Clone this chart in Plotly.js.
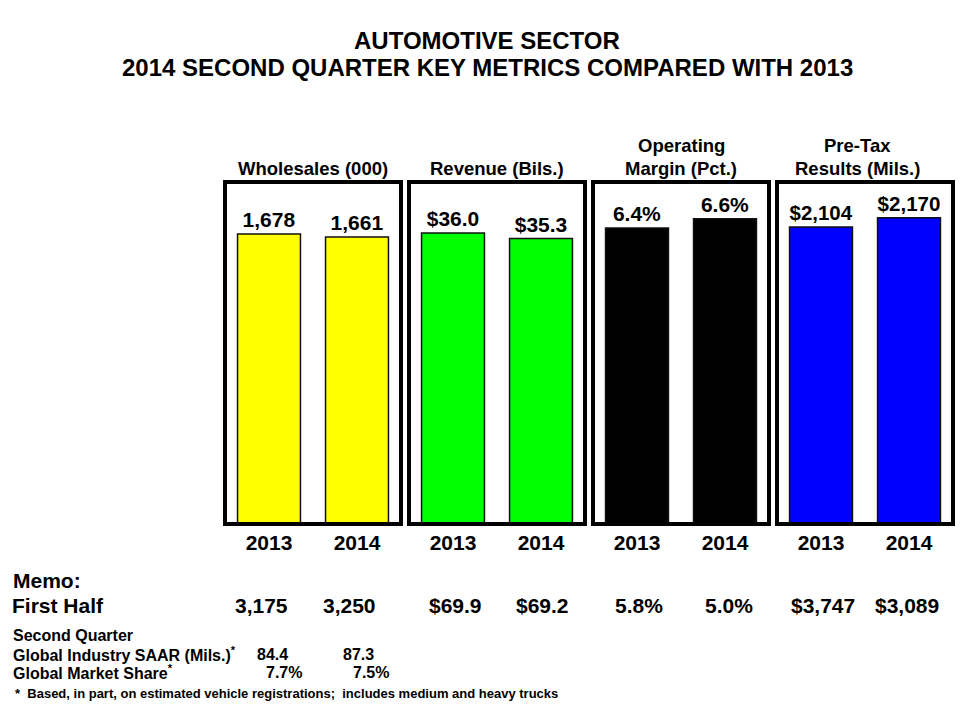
<!DOCTYPE html>
<html>
<head>
<meta charset="utf-8">
<script src="https://cdn.plot.ly/plotly-3.0.1.min.js"></script>
<style>html,body{margin:0;padding:0;background:#fff;}#chart{width:960px;height:720px;}</style>
</head>
<body>
<div id="chart"></div>
<script>
// ---- data ----
const years = ['2013', '2014'];
const wholesales = [1678, 1661];      // (000)
const revenue = [36.0, 35.3];         // Bils.
const opMargin = [6.4, 6.6];          // Pct.
const preTax = [2104, 2170];          // Mils.

const panelTitles = [
  ['Wholesales (000)'],
  ['Revenue (Bils.)'],
  ['Operating', 'Margin (Pct.)'],
  ['Pre-Tax', 'Results (Mils.)']
];

const firstHalfWholesales = [3175, 3250];
const firstHalfRevenue = [69.9, 69.2];
const firstHalfMargin = [5.8, 5.0];
const firstHalfPreTax = [3747, 3089];

const saar = [84.4, 87.3];
const marketShare = [7.7, 7.5];

const titleLines = ['AUTOMOTIVE SECTOR', '2014 SECOND QUARTER KEY METRICS COMPARED WITH 2013'];
const footnote = '*  Based, in part, on estimated vehicle registrations;  includes medium and heavy trucks';

// ---- helpers ----
const W = 960, H = 720;
const FONT = '"Liberation Sans", Arial, sans-serif';
const px = x => x / W;
const py = y => 1 - y / H;
const comma = v => v.toLocaleString('en-US');

const series = [
  {y: wholesales, color: '#FFFF00', tmpl: '%{y:,}'},
  {y: revenue, color: '#00FF00', tmpl: '$%{y:.1f}'},
  {y: opMargin, color: '#000000', tmpl: '%{y:.1f}%'},
  {y: preTax, color: '#0000FF', tmpl: '$%{y:,}'}
];
const panelX = [[225, 401], [409, 585], [593, 769], [777, 953]];
const panelTop = 182, panelBottom = 524;
const yMax = [1979, 42.3, 7.395, 2423];

const traces = [];
const layout = {
  width: W, height: H,
  margin: {l: 0, r: 0, t: 0, b: 0},
  paper_bgcolor: '#fff', plot_bgcolor: '#fff',
  showlegend: false,
  bargap: 0.285,
  font: {family: FONT, color: '#000'},
  shapes: [], annotations: []
};

series.forEach((s, i) => {
  const n = i === 0 ? '' : String(i + 1);
  traces.push({
    type: 'bar', x: years, y: s.y,
    xaxis: 'x' + n, yaxis: 'y' + n,
    marker: {color: s.color, line: {color: '#111', width: 1.5}},
    texttemplate: s.tmpl, textposition: 'outside', cliponaxis: false,
    textfont: {family: FONT, size: 21, weight: 'bold', color: '#000'},
    hoverinfo: 'skip'
  });
  layout['xaxis' + n] = {
    domain: [px(panelX[i][0]), px(panelX[i][1])],
    anchor: 'y' + n, type: 'category',
    showgrid: false, zeroline: false, showline: false, ticks: '',
    ticklabelstandoff: 4,
    tickfont: {family: FONT, size: 21, weight: 'bold', color: '#000'},
    fixedrange: true
  };
  layout['yaxis' + n] = {
    domain: [py(panelBottom), py(panelTop)],
    anchor: 'x' + n, range: [0, yMax[i]], visible: false, fixedrange: true
  };
  layout.shapes.push({
    type: 'rect', xref: 'x' + n + ' domain', yref: 'y' + n + ' domain',
    x0: 0, x1: 1, y0: 0, y1: 1, line: {color: '#000', width: 4}, layer: 'above'
  });
});

function ann(text, x, y, size, xanchor) {
  layout.annotations.push({
    text: '<b>' + text + '</b>', xref: 'paper', yref: 'paper',
    x: px(x), y: py(y), xanchor: xanchor || 'center', yanchor: 'middle',
    showarrow: false, font: {family: FONT, size: size, color: '#000'}
  });
}

// titles
ann(titleLines[0], 487, 40, 24);
ann(titleLines[1], 487, 67, 24);

// panel titles
const panelTitleX = [313, 497, 681, 857];
panelTitles.forEach((lines, i) => {
  if (lines.length === 1) ann(lines[0], panelTitleX[i], 168, 18.5);
  else { ann(lines[0], panelTitleX[i], 146, 18.5); ann(lines[1], panelTitleX[i], 168, 18.5); }
});

// memo
ann('Memo:', 11, 580, 21, 'left');
ann('First Half', 10, 605, 21, 'left');
const fhX = [261, 349, 455, 542, 639, 729, 823, 907];
const fhText = [
  ...firstHalfWholesales.map(comma),
  ...firstHalfRevenue.map(v => '$' + v.toFixed(1)),
  ...firstHalfMargin.map(v => v.toFixed(1) + '%'),
  ...firstHalfPreTax.map(v => '$' + comma(v))
];
fhText.forEach((t, i) => ann(t, fhX[i], 605, 21));

ann('Second Quarter', 11, 635, 16, 'left');
ann('Global Industry SAAR (Mils.)<sup>*</sup>', 11, 654, 16, 'left');
ann('Global Market Share<sup>*</sup>', 11, 672, 16, 'left');
const saarX = [272, 358];
saar.forEach((v, i) => ann(v.toFixed(1), saarX[i], 654, 16));
const shareX = [284, 371];
marketShare.forEach((v, i) => ann(v.toFixed(1) + '%', shareX[i], 672, 16));

ann(footnote, 13, 693, 13, 'left');

Plotly.newPlot('chart', traces, layout, {displayModeBar: false, staticPlot: true});
</script>
</body>
</html>
